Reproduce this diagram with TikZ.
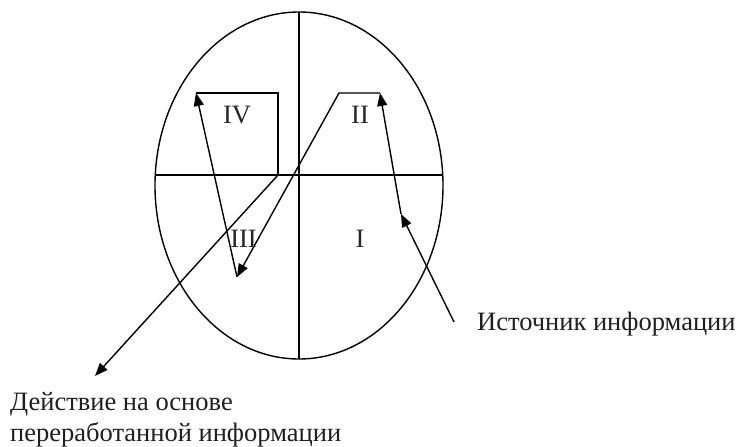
\documentclass[tikz,border=0pt]{standalone}
\usepackage{fontspec}
\setmainfont{Liberation Serif}
\usetikzlibrary{arrows.meta}
\tikzset{
  ln/.style={line width=1.4pt, line join=miter},
  arr/.style={ln, -{Triangle[length=13pt,width=10pt]}},
  lbl/.style={inner sep=0pt, text=black!85, font=\fontsize{26.5}{31}\selectfont},
  txt/.style={inner sep=0pt, anchor=base west, text=black!88, font=\fontsize{26.5}{31}\selectfont}
}
\begin{document}
\begin{tikzpicture}[x=1pt,y=-1pt]
\useasboundingbox (0,0) rectangle (745,447);
% ellipse and axes
\draw[ln] (299,185.5) ellipse [x radius=144, y radius=173.5];
\coordinate (top) at (299,12);
\coordinate (bot) at (299,359);
\coordinate (lft) at (155.3,175);
\coordinate (rgt) at (442.7,175);
\draw[ln] (top) -- (bot);
\draw[ln] (lft) -- (rgt);
% key points
\coordinate (A) at (196,93);
\coordinate (B) at (278,93);
\coordinate (C) at (278,175);
\coordinate (D) at (95,376);
\coordinate (E) at (237,277);
\coordinate (F) at (339,93);
\coordinate (G) at (380,93);
\coordinate (H) at (401,214);
\coordinate (S) at (454,322);
% connectors
\draw[arr] (S) -- (H);
\draw[arr] (H) -- (G);
\draw[arr] (G) -- (F) -- (E);
\draw[arr] (E) -- (A);
\draw[ln] (A) -- (B) -- (C);
\draw[arr] (C) -- (D);
% quadrant labels
\node[lbl] (q4) at (237,115) {IV};
\node[lbl] (q2) at (360,115) {II};
\node[lbl] (q3) at (243.5,239) {III};
\node[lbl] (q1) at (360,239) {I};
% texts
\node[txt] (src) at (477,330.5) {Источник информации};
\node[txt] (act1) at (10,410) {Действие на основе};
\node[txt] (act2) at (10,441) {переработанной информации};
\end{tikzpicture}
\end{document}
